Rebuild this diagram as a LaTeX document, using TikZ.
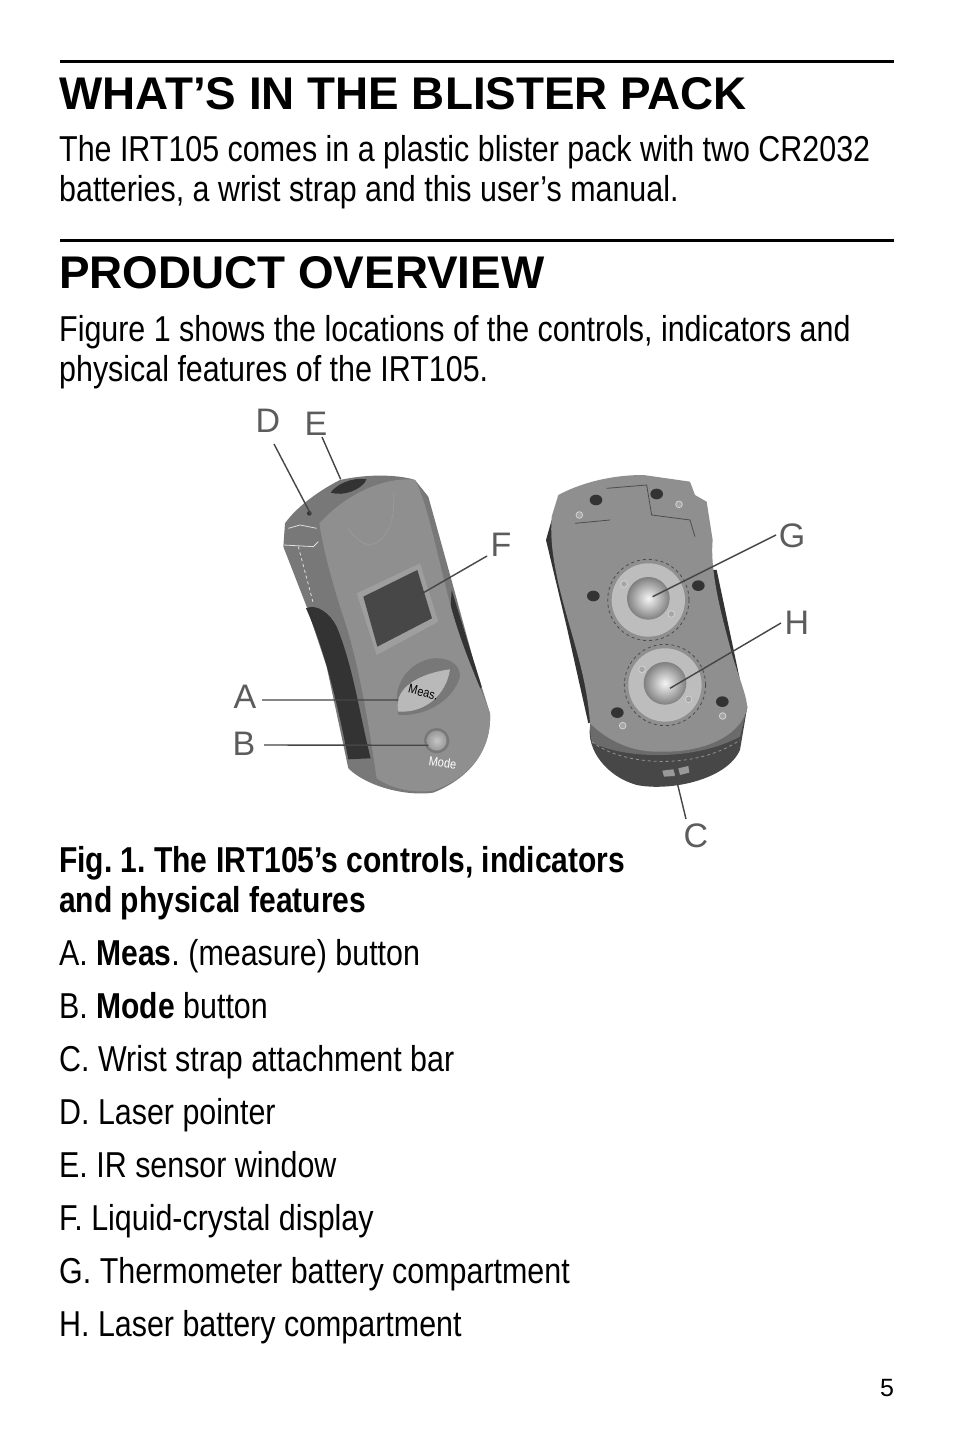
\documentclass[tikz,border=0pt]{standalone}
\usepackage{fontspec}
\setmainfont{Liberation Sans}
\newfontfamily\bodyfont[FakeStretch=0.845,BoldFeatures={FakeStretch=0.834}]{Liberation Sans}
\usepackage{tikz}
\usetikzlibrary{arrows.meta}
\definecolor{caseface}{gray}{0.56}
\definecolor{caseside}{gray}{0.47}
\definecolor{casedark}{gray}{0.20}
\definecolor{leadgray}{gray}{0.27}
\definecolor{labelgray}{gray}{0.36}
\tikzset{
  headtext/.style={anchor=base west,inner sep=0pt,font=\fontsize{45.8}{46}\selectfont\bfseries},
  bodytext/.style={anchor=base west,inner sep=0pt,font=\fontsize{36}{36}\selectfont\bodyfont\frenchspacing},
  figlabel/.style={inner sep=0pt,text=labelgray,font=\fontsize{34}{34}\selectfont},
  hole/.style={fill=casedark},
  stud/.style={fill=gray!70,draw=gray!35,thick}
}
\begin{document}
\begin{tikzpicture}[x=1pt,y=-1pt]
\useasboundingbox (0,0) rectangle (954,1431);
\fill[white] (0,0) rectangle (954,1431);

% rules
\draw[line width=3pt] (60,61.5) -- (894,61.5);
\draw[line width=3pt] (60,240.5) -- (894,240.5);

% text
\begin{scope}[every node/.style={bodytext}]
    \node[headtext] (head1) at (59,110) {WHAT’S IN THE BLISTER PACK};
    \node (p1a) at (59,162) {The IRT105 comes in a plastic blister pack with two CR2032};
    \node (p1b) at (59,202) {batteries, a wrist strap and this user’s manual.};
    \node[headtext] (head2) at (59,288) {PRODUCT OVERVIEW};
    \node (p2a) at (59,341) {Figure 1 shows the locations of the controls, indicators and};
    \node (p2b) at (59,381) {physical features of the IRT105.};
    \node (cap1) at (59,872) {\textbf{Fig. 1. The IRT105’s controls, indicators}};
    \node (cap2) at (59,912) {\textbf{and physical features}};
    \node (itemA) at (59,965) {A. \textbf{Meas}. (measure) button};
    \node (itemB) at (59,1018) {B. \textbf{Mode} button};
    \node (itemC) at (59,1071) {C. Wrist strap attachment bar};
    \node (itemD) at (59,1124) {D. Laser pointer};
    \node (itemE) at (59,1177) {E. IR sensor window};
    \node (itemF) at (59,1230) {F. Liquid-crystal display};
    \node (itemG) at (59,1283) {G. Thermometer battery compartment};
    \node (itemH) at (59,1336) {H. Laser battery compartment};
    \node[font=\fontsize{25}{25}\selectfont] (page) at (880,1396) {5};
\end{scope}

% front of the unit
\begin{scope}[shift={(220,400)},x=0.3333pt,y=-0.3333pt]
    \fill[caseside] (360,240) .. controls (450,220) and (540,225) .. (585,240)
        -- (625,290) -- (700,560) -- (760,780) -- (810,940)
        .. controls (815,1040) and (760,1130) .. (640,1178)
        .. controls (560,1190) and (440,1160) .. (385,1105)
        -- (320,800) -- (260,620) -- (190,440) -- (195,370)
        .. controls (230,320) and (300,270) .. (360,240) -- cycle;
    \fill[casedark] (695,570) -- (785,860) -- (770,880) -- (690,660) -- cycle;
    \fill[casedark] (258,625) .. controls (290,610) and (330,640) .. (350,680)
        .. controls (400,800) and (420,950) .. (452,1075) -- (385,1078)
        .. controls (360,950) and (320,760) .. (258,625) -- cycle;
    \fill[caseface] (298,370) .. controls (400,260) and (520,230) .. (585,240)
        .. controls (620,300) and (650,460) .. (690,610)
        .. controls (730,760) and (790,880) .. (810,940)
        .. controls (815,1040) and (760,1130) .. (640,1172)
        .. controls (590,1180) and (520,1170) .. (470,1135)
        .. controls (450,1000) and (420,800) .. (370,650)
        .. controls (340,560) and (310,450) .. (298,370) -- cycle;
    \draw[gray!80,thick] (520,280) .. controls (530,370) and (490,430) .. (450,435)
        .. controls (420,430) and (395,405) .. (385,385);
    \fill[gray!76] (410,580) -- (600,490) -- (655,665) -- (470,765) -- cycle;
    \fill[caseside] (530,900) .. controls (530,820) and (600,770) .. (660,775)
        .. controls (700,780) and (720,800) .. (720,830)
        .. controls (700,900) and (620,950) .. (535,945) -- cycle;
    \fill[gray!55] (535,935) .. controls (520,880) and (570,825) .. (690,808)
        .. controls (680,880) and (620,940) .. (535,935) -- cycle;
    \fill[black!72] (430,590) -- (592,510) -- (636,655) -- (472,740) -- cycle;
    \fill[caseside] (650,1022) circle [radius=38];
    \shade[inner color=gray!45,outer color=gray!80] (650,1022) circle [radius=30];
    \draw[gray!25,thick] (205,385) -- (240,375) -- (290,385);
    \draw[gray!25,thick] (190,435) -- (280,440) -- (295,425);
    \draw[gray!25,thick,dashed] (235,440) -- (280,610);
    \node[rotate=-14,inner sep=0pt,text=black,font=\fontsize{13}{13}\selectfont\bodyfont] (meastext) at (610,877) {Meas.};
    \node[rotate=-8,inner sep=0pt,text=white,font=\fontsize{13}{13}\selectfont\bodyfont] (modetext) at (668,1088) {Mode};
    \coordinate (ptD) at (272,342);
    \coordinate (ptE) at (362,238);
    \coordinate (ptF) at (590,590);
    \coordinate (ptA) at (535,900);
    \coordinate (ptB) at (625,1036);
    \fill[casedark] (332,278) .. controls (360,240) and (420,232) .. (440,238)
        .. controls (425,270) and (370,290) .. (332,278) -- cycle;
    \fill[casedark] (268,340) circle [radius=7];
\end{scope}

% back of the unit
\begin{scope}[shift={(530,460)},x=0.3333pt,y=-0.3333pt]
    \fill[black!72] (180,800) .. controls (170,870) and (230,950) .. (320,975)
        .. controls (420,995) and (590,960) .. (630,870) -- (652,740) -- cycle;
    \fill[black!58] (180,790) .. controls (180,830) and (185,845) .. (190,850)
        .. controls (300,900) and (500,900) .. (630,830) -- (652,740) -- cycle;
    \fill[casedark] (65,180) -- (48,240) -- (110,500) -- (175,790) -- (200,780) -- (170,560) -- (100,350) -- cycle;
    \fill[casedark] (545,330) -- (560,330) -- (630,660) -- (610,680) -- cycle;
    \fill[caseface] (85,105) .. controls (150,70) and (240,45) .. (340,45)
        -- (480,65) -- (495,105) -- (530,125) -- (548,240)
        .. controls (540,330) and (570,450) .. (600,560)
        .. controls (620,640) and (650,700) .. (652,745)
        .. controls (630,830) and (520,880) .. (380,875)
        .. controls (290,875) and (220,830) .. (180,790)
        .. controls (170,640) and (120,520) .. (85,370)
        .. controls (70,300) and (60,240) .. (65,170) -- cycle;
    \foreach \nm/\cx/\cy in {domeG/355/420,domeH/405/675} {
        \fill[gray!52] (\cx,\cy) circle [radius=110];
        \shade[inner color=gray!8,outer color=gray] (\cx,\cy-5) circle [radius=64];
        \coordinate (\nm) at (\cx,\cy);
    }
    \draw[gray!60!black,thick,dashed] (355,420) circle [radius=122];
    \draw[gray!60!black,thick,dashed] (405,675) circle [radius=122];
    \foreach \hx/\hy in {198/120,380/102,190/408,505/377,262/758,577/725}
        \fill[hole] (\hx,\hy) ellipse [x radius=19,y radius=16];
    \foreach \sx/\sy in {148/165,447/133,282/372,424/462,336/628,476/718,278/797,578/768}
        \fill[stud] (\sx,\sy) circle [radius=10];
    \draw[gray!60!black,thick] (135,190) -- (240,180);
    \draw[gray!60!black,thick] (230,85) -- (350,75) -- (365,165) -- (480,180) -- (495,230);
    \draw[gray!85,thick,dashed] (185,845) .. controls (280,920) and (500,930) .. (630,840);
    \fill[gray!80] (397,932) -- (430,928) -- (436,948) -- (402,950) -- cycle;
    \fill[gray!80] (445,925) -- (475,918) -- (478,938) -- (450,945) -- cycle;
    \coordinate (ptG) at (368,410);
    \coordinate (ptH) at (420,685);
    \coordinate (ptC) at (436,945);
\end{scope}

% labels and leaders
\begin{scope}[every node/.style={figlabel}]
    \node (D) at (268,421) {D};
    \node (E) at (316,424) {E};
    \node (F) at (501,545) {F};
    \node (A) at (245,697) {A};
    \node (B) at (244,744) {B};
    \node (G) at (792,536) {G};
    \node (H) at (797,623) {H};
    \node (C) at (696,836) {C};
\end{scope}

\begin{scope}[every edge/.style={draw=leadgray,line width=1.4pt}]
    \coordinate (tailD) at (274,444);
    \coordinate (tailE) at (322,437);
    \coordinate (tailF) at (487,556);
    \coordinate (tailA) at (262,700);
    \coordinate (tailB) at (264,745);
    \coordinate (tailG) at (776,535);
    \coordinate (tailH) at (781,623);
    \coordinate (tailC) at (686,819);
    \path [-] (tailD) edge (ptD);
    \path [-] (tailE) edge (ptE);
    \path [-] (tailF) edge (ptF);
    \path [-] (tailA) edge (ptA);
    \path [-] (tailB) edge (ptB);
    \path [-] (tailG) edge (ptG);
    \path [-] (tailH) edge (ptH);
    \path [-] (tailC) edge (ptC);
\end{scope}
\end{tikzpicture}
\end{document}
